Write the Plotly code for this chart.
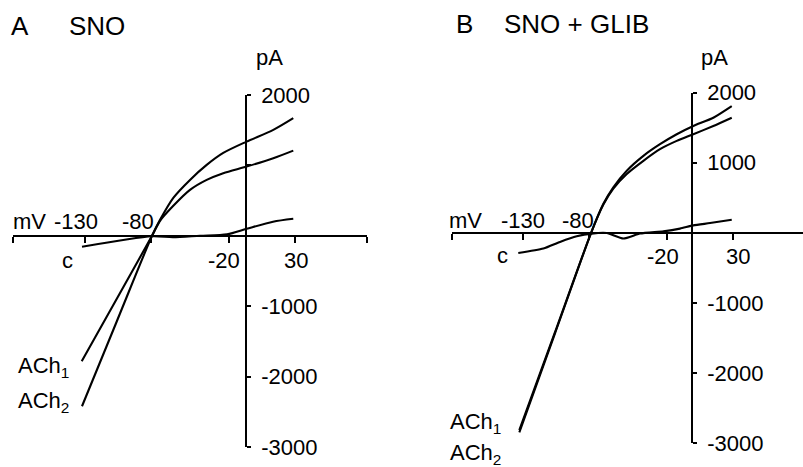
import plotly.graph_objects as go

# ---------------- data (mV, pA) ----------------
# Panel A : SNO
A_V_ACH1 = [-132.4, -105.6, -78.9, -72.8, -62.7, -50.0, -37.3, -24.7, -6.9, 13.4, 28.6]
A_I_ACH1 = [-1783, -892, 0, 213, 426, 652, 794, 889, 983, 1102, 1210]
A_V_ACH2 = [-132.2, -105.6, -78.9, -72.8, -62.7, -50.0, -37.3, -24.7, -6.9, 13.4, 28.6]
A_I_ACH2 = [-2421, -1210, 0, 227, 539, 794, 1007, 1177, 1338, 1504, 1670]
A_V_C = [-132.2, -78.9, -63.0, -42.4, -21.8, -6.9, 13.2, 28.6]
A_I_C = [-156, -7, -21, 0, 21, 99, 199, 241]

# Panel B : SNO + GLIB
B_V_ACH = [-133.1, -105.6, -78.2, -68.8, -61.2, -50.9, -38.2, -25.5, -12.7, 0.0, 15.3, 29.4]
B_I_ACH1 = [-2816, -1408, 0, 404, 631, 840, 1028, 1194, 1312, 1407, 1525, 1643]
B_I_ACH2 = [-2848, -1424, 0, 414, 650, 887, 1099, 1265, 1407, 1525, 1643, 1809]
B_V_C = [-133.9, -114.7, -102.0, -89.2, -77.7, -66.2, -53.5, -40.8, -22.9, -10.2, 0.0, 12.8, 29.4]
B_I_C = [-287, -224, -130, -50, -11, -3, -82, -11, 21, 60, 106, 139, 187]

# axis ticks / labels
A_XTICKS = [-184.6, -130, -80, -20, 30, 84.6]
B_XTICKS = [-184.5, -130, -80, -20, 30]
A_YTICKS = [-3000, -2000, -1000, 1000, 2000]
A_YTEXT = ["-3000", "-2000", "-1000", "", "2000"]
B_YTICKS = [-3000, -2000, -1000, 1000, 2000]
B_YTEXT = ["-3000", "-2000", "-1000", "1000", "2000"]
A_YAXIS_AT = -7.4   # mV where the current axis crosses
B_YAXIS_AT = -1.0

# ---------------- layout helpers ----------------
W, H = 803, 467
FONT = "Liberation Sans, Arial, Helvetica, sans-serif"


def fx(p):
    return p / W


def fy(p):
    return 1 - p / H


def frac(v, rng, dom):
    return dom[0] + (v - rng[0]) / (rng[1] - rng[0]) * (dom[1] - dom[0])


A_XRANGE = [-184.7, 84.7]
B_XRANGE = [-184.6, 83.9]
YRANGE = [-3000, 2000]
A_XDOM = [fx(13), fx(367)]
B_XDOM = [fx(452), fx(803)]
A_YDOM = [fy(447), fy(95)]
B_YDOM = [fy(443), fy(92.7)]

fig = go.Figure()
line = dict(color="black", width=2.1)
for xs, ys in [(A_V_ACH1, A_I_ACH1), (A_V_ACH2, A_I_ACH2), (A_V_C, A_I_C)]:
    fig.add_trace(go.Scatter(x=xs, y=ys, mode="lines", line=dict(line, shape="spline", smoothing=0.8),
                             xaxis="x", yaxis="y", showlegend=False, hoverinfo="skip"))
for xs, ys in [(B_V_ACH, B_I_ACH1), (B_V_ACH, B_I_ACH2), (B_V_C, B_I_C)]:
    fig.add_trace(go.Scatter(x=xs, y=ys, mode="lines", line=dict(line, shape="spline", smoothing=0.6),
                             xaxis="x2", yaxis="y2", showlegend=False, hoverinfo="skip"))

xcommon = dict(showgrid=False, zeroline=False, showline=True, linecolor="black", linewidth=1.8,
               ticks="outside", ticklen=6, tickwidth=1.5, tickcolor="black",
               showticklabels=False, anchor="free", side="bottom", fixedrange=True)
ycommon = dict(showgrid=False, zeroline=False, showline=True, linecolor="black", linewidth=1.5,
               ticks="outside", ticklen=4, tickwidth=1.5, tickcolor="black", side="right",
               anchor="free", tickfont=dict(family=FONT, size=22, color="black"),
               ticklabelstandoff=6, range=YRANGE, fixedrange=True)

fig.update_layout(
    width=W, height=H, margin=dict(l=0, r=0, t=0, b=0, pad=0, autoexpand=False),
    paper_bgcolor="white", plot_bgcolor="white",
    font=dict(family=FONT, size=22, color="black"),
    xaxis=dict(xcommon, domain=A_XDOM, range=A_XRANGE, tickvals=A_XTICKS,
               position=frac(0, YRANGE, A_YDOM)),
    yaxis=dict(ycommon, domain=A_YDOM, tickvals=A_YTICKS, ticktext=A_YTEXT,
               position=frac(A_YAXIS_AT, A_XRANGE, A_XDOM)),
    xaxis2=dict(xcommon, domain=B_XDOM, range=B_XRANGE, tickvals=B_XTICKS,
                position=frac(0, YRANGE, B_YDOM)),
    yaxis2=dict(ycommon, domain=B_YDOM, tickvals=B_YTICKS, ticktext=B_YTEXT,
                position=frac(B_YAXIS_AT, B_XRANGE, B_XDOM)),
)

# text labels: (text, center x px, center y px, size, anchor)
LABELS = [
    ("A", 20, 25.8, 26, "center"), ("SNO", 96.5, 25.8, 26, "center"),
    ("pA", 269.5, 57, 22, "center"),
    ("mV", 30, 221.7, 22, "center"), ("-130", 75.5, 221.7, 22, "center"),
    ("-80", 137.5, 221.7, 22, "center"),
    ("c", 67, 260.7, 22, "center"), ("-20", 224, 260, 22, "center"), ("30", 295.5, 260, 22, "center"),
    ("ACh<sub>1</sub>", 15.5, 367, 22, "left"), ("ACh<sub>2</sub>", 15.5, 402, 22, "left"),
    ("B", 464, 23.8, 26, "center"), ("SNO + GLIB", 576.7, 23.8, 26, "center"),
    ("pA", 714, 57.5, 22, "center"),
    ("mV", 465.5, 220.8, 22, "center"), ("-130", 522.5, 220.8, 22, "center"),
    ("-80", 577.5, 220.8, 22, "center"),
    ("c", 503, 255.7, 22, "center"), ("-20", 662.5, 256.7, 22, "center"),
    ("30", 737.5, 256.7, 22, "center"),
    ("ACh<sub>1</sub>", 447.5, 423, 22, "left"), ("ACh<sub>2</sub>", 447.5, 454, 22, "left"),
]
for text, cx, cy, size, anchor in LABELS:
    fig.add_annotation(text=text, x=fx(cx), y=fy(cy), xref="paper", yref="paper",
                       xanchor=anchor, yanchor="middle", showarrow=False,
                       font=dict(family=FONT, size=size, color="black"))

fig.write_html("out.html")
